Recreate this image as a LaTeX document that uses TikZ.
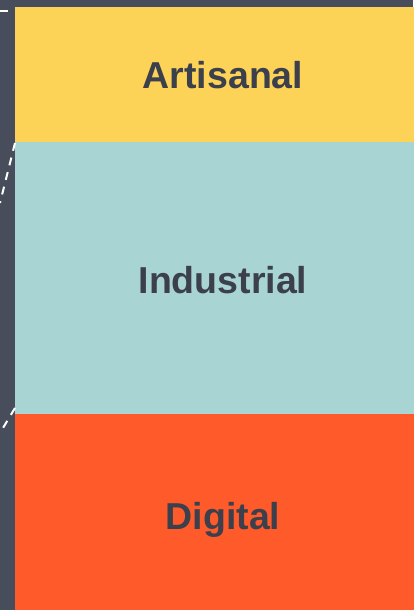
\documentclass[tikz,border=0pt]{standalone}
\usepackage{fontspec}
\setmainfont{Liberation Sans}
\usetikzlibrary{positioning}

\definecolor{slatebg}{HTML}{474D5A}
\definecolor{slatetext}{HTML}{3B404C}
\definecolor{artyellow}{HTML}{FDD357}
\definecolor{indteal}{HTML}{A8D5D4}
\definecolor{digorange}{HTML}{FF5A2A}

\begin{document}
\begin{tikzpicture}[
    x=1pt, y=-1pt,
    stage/.style={rectangle, inner sep=0pt, outer sep=0pt, minimum width=416pt},
    stagetext/.style={text=slatetext, font=\fontsize{37.5}{45}\selectfont\bfseries},
    link/.style={draw=white, line width=2pt, dash pattern=on 8pt off 7pt}
]

    % Background and frame
    \fill[slatebg] (0,0) rectangle (413,610);
    \useasboundingbox (0,0) rectangle (413,610);

    % Loose ends of the guide lines
    \coordinate (topend) at (0,11);
    \coordinate (midend) at (0,203);
    \coordinate (lowend) at (0,433);
    \coordinate (topstart) at (22,11);
    \draw[link] (topend) -- (topstart);

    % Stages (top to bottom)
    \node[stage, fill=artyellow, minimum height=135pt] (art) at (223,74.5) {};
    \node[stage, fill=indteal, minimum height=272pt, below=0pt of art] (ind) {};
    \node[stage, fill=digorange, minimum height=206pt, below=0pt of ind] (dig) {};
    \node[stagetext] (artlabel) at ([yshift=-1pt]art.center) {Artisanal};
    \node[stagetext] (indlabel) at ([yshift=-2pt]ind.center) {Industrial};
    \node[stagetext] (diglabel) at ([yshift=-3pt]dig.center) {Digital};

    % Guide lines
    \draw[link] ([yshift=-1pt]art.south west) -- (midend);
    \draw[link] ([yshift=6pt]ind.south west) -- (lowend);

\end{tikzpicture}
\end{document}
